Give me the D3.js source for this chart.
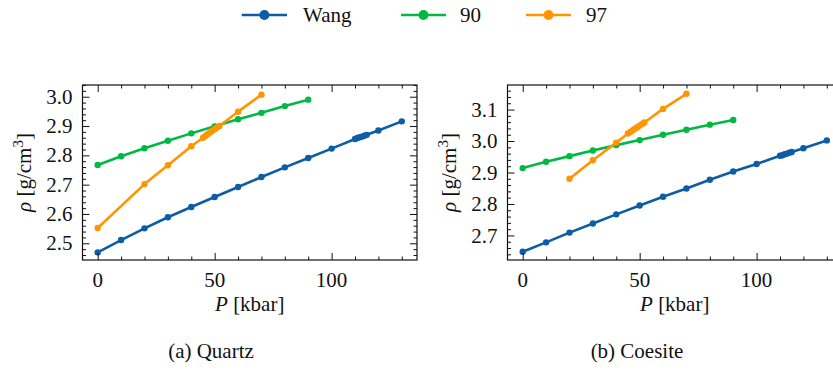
<!DOCTYPE html>
<html>
<head>
<meta charset="utf-8">
<script src="https://cdn.jsdelivr.net/npm/d3@7"></script>
<style>
  html, body { margin: 0; padding: 0; background: #fff; }
  svg { display: block; }
</style>
</head>
<body>
<svg id="chart" width="833" height="370"></svg>
<script>
// Density of SiO2 polymorphs versus pressure
const seriesNames = ["Wang", "90", "97"];
const seriesColors = ["#0C5DA5", "#00B945", "#FF9500"];

// Quartz
const quartzWangP   = [0, 10, 20, 30, 40, 50, 60, 70, 80, 90, 100, 110, 111, 112, 113, 114, 115, 120, 130];
const quartzWangRho = [2.469, 2.511, 2.551, 2.589, 2.624, 2.658, 2.692, 2.726, 2.759, 2.791, 2.823, 2.856, 2.859, 2.862, 2.864, 2.867, 2.870, 2.885, 2.916];
const quartz90P     = [0, 10, 20, 30, 40, 50, 60, 70, 80, 90];
const quartz90Rho   = [2.767, 2.797, 2.824, 2.850, 2.875, 2.899, 2.923, 2.945, 2.968, 2.990];
const quartz97P     = [0, 20, 30, 40, 45, 46, 47, 48, 49, 50, 51, 52, 60, 70];
const quartz97Rho   = [2.552, 2.702, 2.766, 2.831, 2.860, 2.866, 2.872, 2.878, 2.884, 2.889, 2.895, 2.900, 2.949, 3.007];

// Coesite
const coesiteWangP   = [0, 10, 20, 30, 40, 50, 60, 70, 80, 90, 100, 110, 111, 112, 113, 114, 115, 120, 130];
const coesiteWangRho = [2.648, 2.678, 2.709, 2.738, 2.767, 2.795, 2.823, 2.849, 2.877, 2.903, 2.927, 2.953, 2.955, 2.958, 2.960, 2.963, 2.965, 2.977, 3.002];
const coesite90P     = [0, 10, 20, 30, 40, 50, 60, 70, 80, 90];
const coesite90Rho   = [2.914, 2.934, 2.952, 2.970, 2.987, 3.003, 3.020, 3.036, 3.052, 3.067];
const coesite97P     = [20, 30, 40, 45, 46, 47, 48, 49, 50, 51, 52, 60, 70];
const coesite97Rho   = [2.880, 2.939, 2.995, 3.024, 3.029, 3.034, 3.039, 3.044, 3.049, 3.054, 3.059, 3.102, 3.150];

const xTicks = [0, 50, 100];
const quartzYTicks = [2.5, 2.6, 2.7, 2.8, 2.9, 3.0];
const coesiteYTicks = [2.7, 2.8, 2.9, 3.0, 3.1];
const captions = ["(a) Quartz", "(b) Coesite"];

const zip = (p, r) => p.map((v, i) => ({ p: v, rho: r[i] }));

const panels = [
  {
    left: 82.5, right: 417, yDomain: [2.443, 3.040], yTicks: quartzYTicks,
    captionX: 211, caption: captions[0],
    series: [zip(quartzWangP, quartzWangRho), zip(quartz90P, quartz90Rho), zip(quartz97P, quartz97Rho)]
  },
  {
    left: 507.5, right: 842, yDomain: [2.622, 3.178], yTicks: coesiteYTicks,
    captionX: 637, caption: captions[1],
    series: [zip(coesiteWangP, coesiteWangRho), zip(coesite90P, coesite90Rho), zip(coesite97P, coesite97Rho)]
  }
];

const serifFamily = "'Liberation Serif', 'Times New Roman', 'DejaVu Serif', 'Noto Serif', serif";
const svg = d3.select("#chart")
  .attr("font-family", serifFamily)
  .style("font-family", serifFamily);
svg.append("rect").attr("width", 833).attr("height", 370).attr("fill", "#fff");

const plotTop = 85, plotBottom = 260;
const fontSize = 21;
const majorLen = 7, minorLen = 3.5;
const ink = "#111";

panels.forEach(pn => {
  const x = d3.scaleLinear().domain([-6.5, 136.5]).range([pn.left, pn.right]);
  const y = d3.scaleLinear().domain(pn.yDomain).range([plotBottom, plotTop]);
  const g = svg.append("g");

  // data lines and markers
  const line = d3.line().x(d => x(d.p)).y(d => y(d.rho));
  pn.series.forEach((data, i) => {
    g.append("path").datum(data)
      .attr("d", line).attr("fill", "none")
      .attr("stroke", seriesColors[i]).attr("stroke-width", 2.6)
      .attr("stroke-linejoin", "round").attr("stroke-linecap", "round");
    g.selectAll(null).data(data).enter().append("circle")
      .attr("cx", d => x(d.p)).attr("cy", d => y(d.rho)).attr("r", 3.2)
      .attr("fill", seriesColors[i]);
  });

  // inward ticks on all four sides
  const xMinor = d3.range(0, 140, 10).filter(v => !xTicks.includes(v));
  const [y0, y1] = pn.yDomain;
  const yMinor = d3.range(Math.ceil(y0 * 50), Math.floor(y1 * 50) + 1)
    .map(v => v / 50).filter(v => !pn.yTicks.some(t => Math.abs(t - v) < 1e-6));

  const bottomAxis = (vals, len) => d3.axisBottom(x).tickValues(vals).tickSize(-len).tickFormat("");
  const topAxis = (vals, len) => d3.axisTop(x).tickValues(vals).tickSize(-len).tickFormat("");
  const leftAxis = (vals, len) => d3.axisLeft(y).tickValues(vals).tickSize(-len).tickFormat("");
  const rightAxis = (vals, len) => d3.axisRight(y).tickValues(vals).tickSize(-len).tickFormat("");

  const axes = [
    [bottomAxis(xTicks, majorLen), `translate(0,${plotBottom})`],
    [bottomAxis(xMinor, minorLen), `translate(0,${plotBottom})`],
    [topAxis(xTicks, majorLen), `translate(0,${plotTop})`],
    [topAxis(xMinor, minorLen), `translate(0,${plotTop})`],
    [leftAxis(pn.yTicks, majorLen), `translate(${pn.left},0)`],
    [leftAxis(yMinor, minorLen), `translate(${pn.left},0)`],
    [rightAxis(pn.yTicks, majorLen), `translate(${pn.right},0)`],
    [rightAxis(yMinor, minorLen), `translate(${pn.right},0)`]
  ];
  axes.forEach(([ax, tr]) => {
    const a = g.append("g").attr("transform", tr).call(ax);
    a.select(".domain").remove();
    a.selectAll("line").attr("stroke", ink).attr("stroke-width", 1);
  });

  // frame
  g.append("rect")
    .attr("x", pn.left).attr("y", plotTop)
    .attr("width", pn.right - pn.left).attr("height", plotBottom - plotTop)
    .attr("fill", "none").attr("stroke", ink).attr("stroke-width", 1.2);

  // tick labels
  g.selectAll(null).data(xTicks).enter().append("text")
    .attr("x", d => x(d)).attr("y", 287)
    .attr("text-anchor", "middle").attr("font-size", fontSize).attr("fill", ink)
    .attr("font-family", serifFamily)
    .text(d => d);
  g.selectAll(null).data(pn.yTicks).enter().append("text")
    .attr("x", pn.left - 10).attr("y", d => y(d)).attr("dy", "0.34em")
    .attr("text-anchor", "end").attr("font-size", fontSize).attr("fill", ink)
    .attr("font-family", serifFamily)
    .text(d => d.toFixed(1));

  // axis titles
  const xt = g.append("text")
    .attr("x", (pn.left + pn.right) / 2).attr("y", 311)
    .attr("text-anchor", "middle").attr("font-size", fontSize).attr("fill", ink)
    .attr("font-family", serifFamily);
  xt.append("tspan").attr("font-style", "italic").text("P");
  xt.append("tspan").text(" [kbar]");

  const yt = g.append("text")
    .attr("transform", `translate(${pn.left - 51.5},${(plotTop + plotBottom) / 2}) rotate(-90)`)
    .attr("text-anchor", "middle").attr("font-size", fontSize).attr("fill", ink)
    .attr("font-family", serifFamily);
  yt.append("tspan").attr("font-style", "italic").text("ρ");
  yt.append("tspan").text(" [g/cm");
  yt.append("tspan").attr("font-size", 15).attr("dy", -8).text("3");
  yt.append("tspan").attr("dy", 8).text("]");

  // caption
  svg.append("text")
    .attr("x", pn.captionX).attr("y", 358)
    .attr("text-anchor", "middle").attr("font-size", fontSize).attr("fill", ink)
    .attr("font-family", serifFamily)
    .text(pn.caption);
});

// legend
const legendItems = [
  { x1: 241.7, x2: 287, tx: 303 },
  { x1: 401, x2: 446, tx: 460 },
  { x1: 526, x2: 571, tx: 586 }
];
const lg = svg.append("g");
legendItems.forEach((it, i) => {
  lg.append("line").attr("x1", it.x1).attr("x2", it.x2).attr("y1", 15).attr("y2", 15)
    .attr("stroke", seriesColors[i]).attr("stroke-width", 2.6);
  lg.append("circle").attr("cx", (it.x1 + it.x2) / 2).attr("cy", 15).attr("r", 5)
    .attr("fill", seriesColors[i]);
  lg.append("text").attr("x", it.tx).attr("y", 22).attr("font-size", fontSize).attr("fill", ink)
    .attr("font-family", serifFamily)
    .text(seriesNames[i]);
});
</script>
</body>
</html>
